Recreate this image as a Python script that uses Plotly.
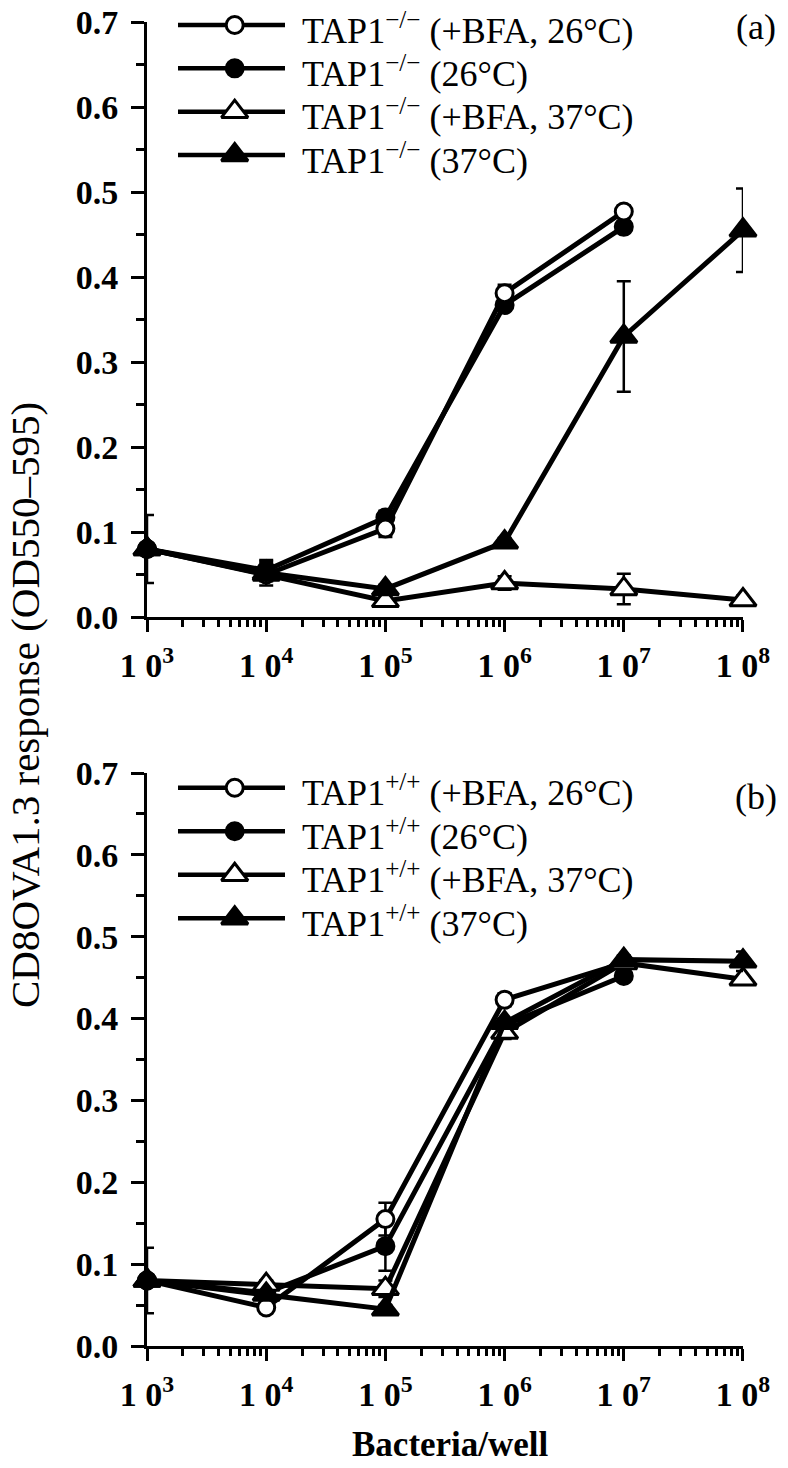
import plotly.graph_objects as go

# ---------------- data ----------------
bacteria = [1e3, 1e4, 1e5, 1e6, 1e7, 1e8]
x_ticks = [1e3, 1e4, 1e5, 1e6, 1e7, 1e8]
x_ticktext = ["1 0<sup>3</sup>", "1 0<sup>4</sup>", "1 0<sup>5</sup>",
              "1 0<sup>6</sup>", "1 0<sup>7</sup>", "1 0<sup>8</sup>"]
y_ticks = [0.0, 0.1, 0.2, 0.3, 0.4, 0.5, 0.6, 0.7]

# panel (a) TAP1-/-
a_names = ["TAP1<sup>\u2212/\u2212</sup> (+BFA, 26\u00b0C)",
           "TAP1<sup>\u2212/\u2212</sup> (26\u00b0C)",
           "TAP1<sup>\u2212/\u2212</sup> (+BFA, 37\u00b0C)",
           "TAP1<sup>\u2212/\u2212</sup> (37\u00b0C)"]
a_open_circle = [0.080, 0.050, 0.104, 0.381, 0.477]
a_open_circle_err = [0.0, 0.008, 0.010, 0.010, 0.007]
a_filled_circle = [0.080, 0.055, 0.117, 0.367, 0.459]
a_filled_circle_err = [0.0, 0.010, 0.008, 0.005, 0.005]
a_open_tri = [0.080, 0.050, 0.019, 0.040, 0.033, 0.020]
a_open_tri_err = [0.0, 0.005, 0.005, 0.008, 0.018, 0.005]
a_filled_tri = [0.080, 0.052, 0.033, 0.088, 0.330, 0.455]
a_filled_tri_err = [0.040, 0.015, 0.005, 0.005, 0.065, 0.049]

# panel (b) TAP1+/+
b_names = ["TAP1<sup>+/+</sup> (+BFA, 26\u00b0C)",
           "TAP1<sup>+/+</sup> (26\u00b0C)",
           "TAP1<sup>+/+</sup> (+BFA, 37\u00b0C)",
           "TAP1<sup>+/+</sup> (37\u00b0C)"]
b_open_circle = [0.080, 0.047, 0.155, 0.423, 0.468]
b_open_circle_err = [0.0, 0.005, 0.020, 0.008, 0.005]
b_filled_circle = [0.080, 0.065, 0.122, 0.392, 0.452]
b_filled_circle_err = [0.0, 0.005, 0.030, 0.005, 0.005]
b_open_tri = [0.080, 0.075, 0.070, 0.383, 0.468, 0.448]
b_open_tri_err = [0.0, 0.005, 0.010, 0.008, 0.005, 0.005]
b_filled_tri = [0.080, 0.063, 0.045, 0.395, 0.472, 0.470]
b_filled_tri_err = [0.040, 0.005, 0.005, 0.005, 0.005, 0.012]

panel_labels = ["(a)", "(b)"]
y_title = "CD8OVA1.3 response (OD550\u2013595)"
x_title = "Bacteria/well"

# ---------------- styles ----------------
W, H = 788, 1468
SERIF = "Liberation Serif, Times New Roman, serif"
styles = [
    dict(symbol="circle", color="white", size=17),
    dict(symbol="circle", color="black", size=17),
    dict(symbol="triangle-up", color="white", size=23),
    dict(symbol="triangle-up", color="black", size=23),
]
draw_order = [1, 0, 2, 3]


def px_x(p):
    return min(1.0, max(0.0, p / W))


def px_y(p):
    return min(1.0, max(0.0, 1 - p / H))


fig = go.Figure()

panels = [
    ("x", "y", [a_open_circle, a_filled_circle, a_open_tri, a_filled_tri],
     [a_open_circle_err, a_filled_circle_err, a_open_tri_err, a_filled_tri_err]),
    ("x2", "y2", [b_open_circle, b_filled_circle, b_open_tri, b_filled_tri],
     [b_open_circle_err, b_filled_circle_err, b_open_tri_err, b_filled_tri_err]),
]

for xa, ya, series, errs in panels:
    for i in draw_order:
        st = styles[i]
        vals = series[i]
        fig.add_trace(go.Scatter(
            x=bacteria[:len(vals)], y=vals, xaxis=xa, yaxis=ya,
            mode="lines+markers", showlegend=False, cliponaxis=False,
            line=dict(color="black", width=5),
            marker=dict(symbol=st["symbol"], size=st["size"], color=st["color"],
                        line=dict(color="black", width=3)),
            error_y=dict(type="data", array=errs[i], visible=True,
                         color="black", thickness=2.5, width=7),
        ))

# legend keys (drawn on auxiliary unit axes)
legend_axes = [("x3", "y3", a_names), ("x4", "y4", b_names)]
for xa, ya, names in legend_axes:
    for i, name in enumerate(names):
        st = styles[i]
        fig.add_trace(go.Scatter(
            x=[0, 1], y=[i, i], xaxis=xa, yaxis=ya, mode="lines",
            showlegend=False, cliponaxis=False, hoverinfo="skip",
            line=dict(color="black", width=4.5)))
        fig.add_trace(go.Scatter(
            x=[0.53], y=[i], xaxis=xa, yaxis=ya, mode="markers",
            showlegend=False, cliponaxis=False, hoverinfo="skip",
            marker=dict(symbol=st["symbol"], size=st["size"], color=st["color"],
                        line=dict(color="black", width=3))))
        fig.add_annotation(x=px_x(300), xref="paper", y=i, yref=ya,
                           text=name, showarrow=False, xanchor="left",
                           yanchor="middle", yshift=-3,
                           font=dict(family=SERIF, size=36, color="black"))

xdom = [px_x(147), px_x(743)]
common_x = dict(type="log", range=[2.9999, 8.0001], domain=xdom, showline=True,
                linecolor="black", linewidth=3, ticks="outside", ticklen=12,
                tickwidth=3, tickcolor="black", tickmode="array",
                tickvals=x_ticks, ticktext=x_ticktext, ticklabelstandoff=4,
                ticklabeloverflow="allow",
                tickfont=dict(family=SERIF, size=34, color="black", weight="bold"),
                showgrid=False, zeroline=False, automargin=False,
                minor=dict(ticks="outside", ticklen=7, tickwidth=2.5,
                           tickcolor="black", dtick="D1", showgrid=False))
common_y = dict(range=[0, 0.7], showline=True, linecolor="black", linewidth=3,
                ticks="outside", ticklen=13, tickwidth=3, tickcolor="black",
                tickmode="array", tickvals=y_ticks, tickformat=".1f",
                ticklabelstandoff=6, ticklabeloverflow="allow",
                tickfont=dict(family=SERIF, size=34, color="black", weight="bold"),
                showgrid=False, zeroline=False, automargin=False,
                minor=dict(ticks="outside", ticklen=8, tickwidth=2.5,
                           tickcolor="black", dtick=0.05, showgrid=False))

aux = dict(visible=False, showgrid=False, zeroline=False, fixedrange=True)

# legend rows: (a) at 25, 68, 112, 155 px; (b) at 788, 831, 875, 918 px
row = 43.33
fig.update_layout(
    width=W, height=H,
    margin=dict(l=0, r=0, t=0, b=0),
    paper_bgcolor="white", plot_bgcolor="white",
    showlegend=False,
    hovermode=False,
    xaxis=dict(common_x, anchor="y"),
    yaxis=dict(common_y, domain=[px_y(617), px_y(22)], anchor="x"),
    xaxis2=dict(common_x, anchor="y2"),
    yaxis2=dict(common_y, domain=[px_y(1346), px_y(773)], anchor="x2"),
    xaxis3=dict(aux, range=[0, 1], domain=[px_x(178), px_x(285)], anchor="y3"),
    yaxis3=dict(aux, range=[3 + 22 / row, -25 / row],
                domain=[px_y(177), px_y(0)], anchor="x3"),
    xaxis4=dict(aux, range=[0, 1], domain=[px_x(178), px_x(285)], anchor="y4"),
    yaxis4=dict(aux, range=[3.5, -0.5], domain=[px_y(940), px_y(766)], anchor="x4"),
)

fig.add_annotation(x=px_x(756), y=px_y(27), xref="paper", yref="paper",
                   xanchor="center", yanchor="middle",
                   text=panel_labels[0], showarrow=False,
                   font=dict(family=SERIF, size=36, color="black"))
fig.add_annotation(x=px_x(756), y=px_y(797), xref="paper", yref="paper",
                   xanchor="center", yanchor="middle",
                   text=panel_labels[1], showarrow=False,
                   font=dict(family=SERIF, size=36, color="black"))
fig.add_annotation(x=px_x(25), y=px_y(705), xref="paper", yref="paper",
                   xanchor="center", yanchor="middle",
                   text=y_title, showarrow=False, textangle=-90,
                   font=dict(family=SERIF, size=41, color="black"))
fig.add_annotation(x=px_x(450), y=px_y(1444), xref="paper", yref="paper",
                   xanchor="center", yanchor="middle",
                   text=x_title, showarrow=False,
                   font=dict(family=SERIF, size=35, color="black", weight="bold"))

fig.write_html("out.html", config={"displayModeBar": False},
               post_script="document.body.style.margin='0';")
